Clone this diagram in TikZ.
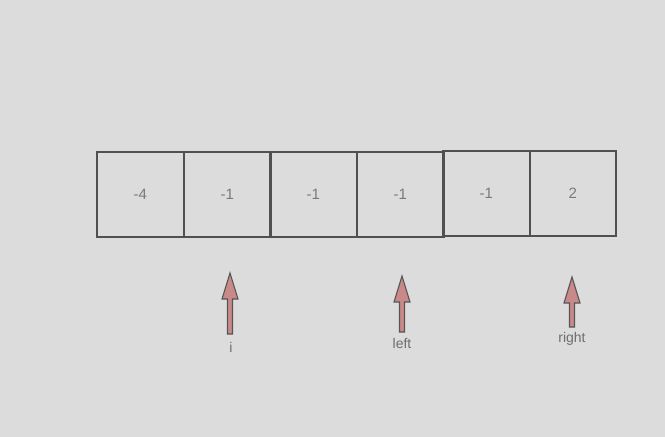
\documentclass[tikz,border=0pt]{standalone}
\usepackage{fontspec}
\setmainfont{Liberation Sans}
\begin{document}
\begin{tikzpicture}[x=1pt,y=-1pt,
  cell/.style={draw=boxline, line width=1.8pt, minimum width=87pt, minimum height=85pt, inner sep=0pt, anchor=north west, font=\fontsize{15}{15}\selectfont, text=numgray},
  lbl/.style={font=\fontsize{14}{14}\selectfont, text=lblgray, inner sep=0pt}]
\definecolor{bg}{HTML}{DCDCDC}
\definecolor{boxline}{HTML}{505050}
\definecolor{numgray}{HTML}{7A7A7A}
\definecolor{lblgray}{HTML}{6E6E6E}
\definecolor{arrowfill}{HTML}{C98989}
\definecolor{arrowline}{HTML}{555555}
\fill[bg] (0,0) rectangle (665,437);
\useasboundingbox (0,0) rectangle (665,437);
\node[cell] (c1) at (96,151) {-4};
\node[cell] (c2) at (183,151) {-1};
\node[cell] (c3) at (269,151) {-1};
\node[cell] (c4) at (356,151) {-1};
\node[cell] (c5) at (442,150) {-1};
\node[cell, minimum width=86pt] (c6) at (529,150) {2};
% arrows
\newcommand{\uparrowshape}[3]{% x, top, bottom
  \filldraw[fill=arrowfill, draw=arrowline, line width=1.1pt]
    (#1-2.5,#3) -- (#1-2.5,#2+26) -- (#1-8,#2+26) -- (#1,#2) -- (#1+8,#2+26)
    -- (#1+2.5,#2+26) -- (#1+2.5,#3) -- cycle;}
\uparrowshape{230}{273}{334}
\uparrowshape{402}{276}{332}
\uparrowshape{572}{277}{327}
\node[lbl] (li) at (231,347) {i};
\node[lbl] (ll) at (402,343) {left};
\node[lbl] (lr) at (572,339) {right};
\end{tikzpicture}
\end{document}
